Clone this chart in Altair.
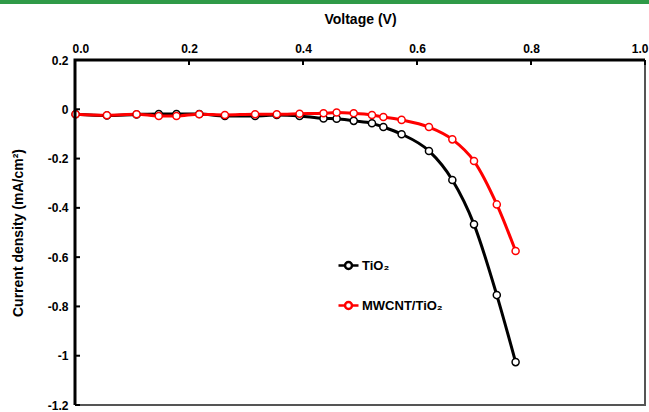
import altair as alt
import pandas as pd

voltage = [0.001, 0.056, 0.108, 0.147, 0.178, 0.218, 0.263, 0.316, 0.354, 0.394, 0.436,
           0.459, 0.489, 0.521, 0.541, 0.573, 0.621, 0.662, 0.700, 0.740, 0.773]
tio2 = [-0.020, -0.025, -0.021, -0.019, -0.019, -0.019, -0.027, -0.027, -0.023, -0.027, -0.037,
        -0.038, -0.047, -0.057, -0.072, -0.101, -0.169, -0.287, -0.467, -0.754, -1.026]
mwcnt = [-0.020, -0.024, -0.020, -0.027, -0.027, -0.020, -0.023, -0.020, -0.020, -0.018, -0.016,
         -0.013, -0.016, -0.023, -0.031, -0.043, -0.072, -0.122, -0.210, -0.386, -0.575]
series_names = ["TiO₂", "MWCNT/TiO₂"]
series_colors = ["#000000", "#ff0000"]
x_ticks = [0.0, 0.2, 0.4, 0.6, 0.8, 1.0]
y_ticks = [0.2, 0.0, -0.2, -0.4, -0.6, -0.8, -1.0, -1.2]
x_min, x_max = 0.0, 1.0
y_min, y_max = -1.2, 0.2

rows = []
for i, v in enumerate(voltage):
    rows.append({"V": v, "J": tio2[i], "series": series_names[0]})
for i, v in enumerate(voltage):
    rows.append({"V": v, "J": mwcnt[i], "series": series_names[1]})
df = pd.DataFrame(rows)

# frame of the plot area (axis lines), as polylines through the scales
frame_dark = pd.DataFrame({"V": [x_max, x_min, x_min], "J": [y_max, y_max, y_min], "k": [0, 1, 2]})
frame_grey = pd.DataFrame({"V": [x_min, x_max, x_max], "J": [y_min, y_min, y_max], "k": [0, 1, 2]})

FONT = "Liberation Sans"

xscale = alt.Scale(domain=[x_min, x_max], nice=False, zero=False)
yscale = alt.Scale(domain=[y_min, y_max], nice=False, zero=False)
stroke_scale = alt.Scale(domain=series_names, range=series_colors)

legend_path = "M -1 0 L -0.35 0 M 0.35 0 L 1 0 M -0.35 0 A 0.35 0.35 0 1 1 0.35 0 A 0.35 0.35 0 1 1 -0.35 0"

x_axis = alt.Axis(orient="top", values=x_ticks, format=".1f", title="Voltage (V)",
                  grid=False, ticks=False, domain=False, labelPadding=5, titlePadding=16,
                  labelFlush=True, labelFlushOffset=3,
                  labelFont=FONT, labelFontWeight="bold", labelFontSize=12, labelColor="black",
                  titleFont=FONT, titleFontWeight="bold", titleFontSize=14, titleColor="black")
y_axis = alt.Axis(values=y_ticks, labelExpr="toString(round(datum.value*10)/10)",
                  title="Current density (mA/cm²)",
                  grid=False, ticks=False, domain=False, labelPadding=7, titlePadding=22,
                  labelFont=FONT, labelFontWeight="bold", labelFontSize=12, labelColor="black",
                  titleFont=FONT, titleFontWeight="bold", titleFontSize=14, titleColor="black")

base = alt.Chart(df)

lines = base.mark_line(strokeWidth=3, interpolate="monotone").encode(
    x=alt.X("V:Q", scale=xscale, axis=x_axis),
    y=alt.Y("J:Q", scale=yscale, axis=y_axis),
    stroke=alt.Stroke("series:N", scale=stroke_scale,
                      legend=alt.Legend(title=None, orient="none", legendX=262, legendY=194,
                                        symbolType=legend_path, symbolSize=400,
                                        symbolStrokeWidth=2.5, symbolFillColor="white",
                                        labelFont=FONT, labelFontWeight="bold", labelFontSize=13,
                                        labelColor="black", rowPadding=20, labelOffset=2)),
    order=alt.Order("V:Q"),
    detail="series:N",
)

points = base.mark_point(filled=True, fill="white", size=50, strokeWidth=1.5, opacity=1).encode(
    x=alt.X("V:Q", scale=xscale),
    y=alt.Y("J:Q", scale=yscale),
    stroke=alt.Stroke("series:N", scale=stroke_scale, legend=None),
)

grey_frame = alt.Chart(frame_grey).mark_line(color="#555555", strokeWidth=2).encode(
    x=alt.X("V:Q", scale=xscale), y=alt.Y("J:Q", scale=yscale), order="k:Q")
dark_frame = alt.Chart(frame_dark).mark_line(color="#000000", strokeWidth=3).encode(
    x=alt.X("V:Q", scale=xscale), y=alt.Y("J:Q", scale=yscale), order="k:Q")

xtick_df = pd.DataFrame({"V": x_ticks})
ytick_df = pd.DataFrame({"J": y_ticks})

xt = alt.Chart(xtick_df).mark_rule(color="black", strokeWidth=2).encode(
    x=alt.X("V:Q", scale=xscale),
    y=alt.value(0), y2=alt.value(5))
yt = alt.Chart(ytick_df).mark_rule(color="black", strokeWidth=2).encode(
    y=alt.Y("J:Q", scale=yscale),
    x=alt.value(0), x2=alt.value(5))

one = alt.Data(values=[{"a": 1}])
green = alt.Chart(one).mark_rule(color="#2f9a48", strokeWidth=4, clip=False).encode(
    x=alt.value(-75), x2=alt.value(574), y=alt.value(-58))

chart = alt.layer(grey_frame, lines, points, xt, yt, dark_frame, green).properties(
    width=570, height=345,
    autosize=alt.AutoSizeParams(type="none"),
    padding={"left": 75, "top": 60, "right": 4, "bottom": 7},
).configure_view(strokeWidth=0)

chart.save("out.html", embed_options={"renderer": "svg", "actions": False})
